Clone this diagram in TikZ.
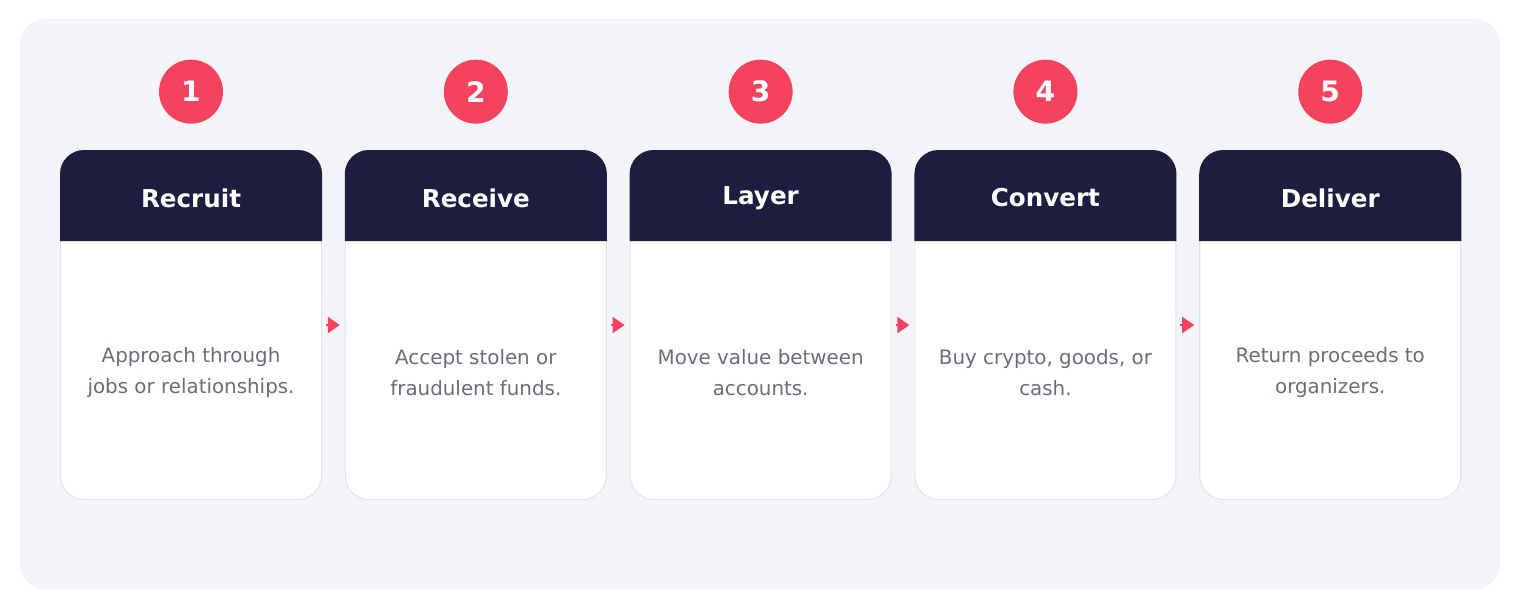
\documentclass[tikz,border=0pt]{standalone}
\usepackage{fontspec}
\setmainfont{DejaVu Sans}
\usepackage{xcolor}
\usetikzlibrary{positioning,arrows.meta}

\definecolor{panelbg}{HTML}{F3F4F8}
\definecolor{navy}{HTML}{1C1D3F}
\definecolor{rose}{HTML}{F4435E}
\definecolor{bodygray}{HTML}{6B6C7C}
\definecolor{edgegray}{HTML}{E4E5EC}

\begin{document}
\begin{tikzpicture}[node distance=0.455cm,
    card/.style={rectangle, rounded corners=0.48cm, fill=white, draw=edgegray, line width=0.6pt,
        minimum width=5.22cm, minimum height=6.98cm, inner sep=0pt},
    head/.style={text=white, font=\fontsize{14}{17}\selectfont\bfseries},
    desc/.style={text=bodygray, align=center, font=\fontsize{11.3}{17.6}\selectfont},
    num/.style={circle, fill=rose, text=white, minimum size=1.28cm, inner sep=0pt,
        font=\fontsize{16}{19}\selectfont\bfseries},
    flow/.style={draw=rose, line width=0.04cm, -{Triangle[length=0.24cm, width=0.32cm]}}]
    % page and panel
    \fill[white] (0,0) rectangle (30.4,-12.2);
    \fill[panelbg, rounded corners=0.5cm] (0.4,-0.38) rectangle (30.0,-11.78);
    \useasboundingbox (0,0) rectangle (30.4,-12.2);

    % Cards
    \node [card, anchor=north west] (C1) at (1.2,-3.0) {};
    \node [card, right=of C1] (C2) {};
    \node [card, right=of C2] (C3) {};
    \node [card, right=of C3] (C4) {};
    \node [card, right=of C4] (C5) {};

    % Header bands
    \fill[navy] ([yshift=-1.82cm]C1.north west) [rounded corners=0.48cm] -- (C1.north west) -- (C1.north east) [sharp corners] -- ([yshift=-1.82cm]C1.north east) -- cycle;
    \fill[navy] ([yshift=-1.82cm]C2.north west) [rounded corners=0.48cm] -- (C2.north west) -- (C2.north east) [sharp corners] -- ([yshift=-1.82cm]C2.north east) -- cycle;
    \fill[navy] ([yshift=-1.82cm]C3.north west) [rounded corners=0.48cm] -- (C3.north west) -- (C3.north east) [sharp corners] -- ([yshift=-1.82cm]C3.north east) -- cycle;
    \fill[navy] ([yshift=-1.82cm]C4.north west) [rounded corners=0.48cm] -- (C4.north west) -- (C4.north east) [sharp corners] -- ([yshift=-1.82cm]C4.north east) -- cycle;
    \fill[navy] ([yshift=-1.82cm]C5.north west) [rounded corners=0.48cm] -- (C5.north west) -- (C5.north east) [sharp corners] -- ([yshift=-1.82cm]C5.north east) -- cycle;

    % Recruit
    \node [num, above=0.52cm of C1] (N1) {1};
    \node [head] (H1) at ([yshift=-0.96cm]C1.north) {Recruit};
    \node [desc] (T1) at ([yshift=-0.95cm]C1.center) {Approach through\\jobs or relationships.};
    % Receive
    \node [num, above=0.52cm of C2] (N2) {2};
    \node [head] (H2) at ([yshift=-0.96cm]C2.north) {Receive};
    \node [desc] (T2) at ([yshift=-0.95cm]C2.center) {Accept stolen or\\fraudulent funds.};
    % Layer
    \node [num, above=0.52cm of C3] (N3) {3};
    \node [head] (H3) at ([yshift=-0.96cm]C3.north) {Layer};
    \node [desc] (T3) at ([yshift=-0.95cm]C3.center) {Move value between\\accounts.};
    % Convert
    \node [num, above=0.52cm of C4] (N4) {4};
    \node [head] (H4) at ([yshift=-0.96cm]C4.north) {Convert};
    \node [desc] (T4) at ([yshift=-0.95cm]C4.center) {Buy crypto, goods, or\\cash.};
    % Deliver
    \node [num, above=0.52cm of C5] (N5) {5};
    \node [head] (H5) at ([yshift=-0.96cm]C5.north) {Deliver};
    \node [desc] (T5) at ([yshift=-0.95cm]C5.center) {Return proceeds to\\organizers.};

    % Arrows
    \draw[flow] ([xshift=0.08cm]C1.east) -- ([xshift=-0.1cm]C2.west);
    \draw[flow] ([xshift=0.08cm]C2.east) -- ([xshift=-0.1cm]C3.west);
    \draw[flow] ([xshift=0.08cm]C3.east) -- ([xshift=-0.1cm]C4.west);
    \draw[flow] ([xshift=0.08cm]C4.east) -- ([xshift=-0.1cm]C5.west);
\end{tikzpicture}
\end{document}
